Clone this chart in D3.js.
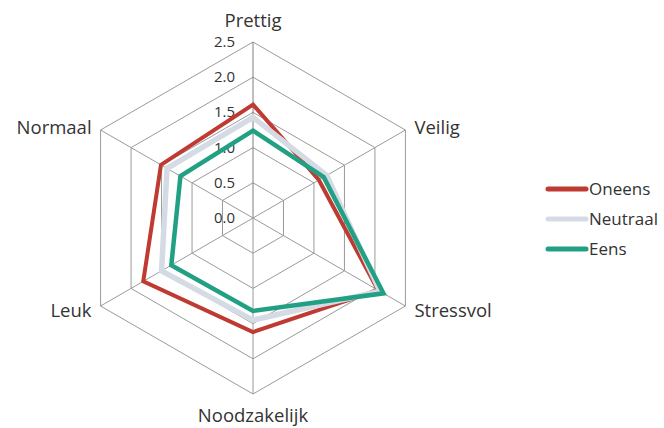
<!DOCTYPE html>
<html>
<head>
<meta charset="utf-8">
<script src="https://cdn.jsdelivr.net/npm/d3@7"></script>
<style>
  body { margin: 0; background: #fff; }
  text { font-family: "Open Sans", "Liberation Sans", sans-serif; fill: #333; }
</style>
</head>
<body>
<div id="chart"></div>
<script>
const axesNames = ["Prettig", "Veilig", "Stressvol", "Noodzakelijk", "Leuk", "Normaal"];
const ticks = [0, 0.5, 1.0, 1.5, 2.0, 2.5];
const seriesNames = ["Oneens", "Neutraal", "Eens"];
const oneens = [1.61, 1.08, 2.05, 1.62, 1.80, 1.51];
const neutraal = [1.43, 1.21, 2.08, 1.45, 1.50, 1.41];
const eens = [1.24, 1.16, 2.14, 1.32, 1.34, 1.19];
const colors = ["#BF3A30", "#D5DBE4", "#22A084"];
const widths = [4, 5.5, 4.5];

const width = 664, height = 428;
const cx = 253, cy = 218, R = 176;

const svg = d3.select("#chart").append("svg")
  .attr("width", width).attr("height", height);

const r = d3.scaleLinear().domain([0, 2.5]).range([0, R]);
const angle = i => -Math.PI / 2 + i * Math.PI / 3;
const pt = (v, i) => [cx + r(v) * Math.cos(angle(i)), cy + r(v) * Math.sin(angle(i))];

const g = svg.append("g");

// grid hexagons
ticks.slice(1).forEach(t => {
  g.append("polygon")
    .attr("points", axesNames.map((d, i) => pt(t, i).join(",")).join(" "))
    .attr("fill", "none")
    .attr("stroke", "#9a9a9a")
    .attr("stroke-width", 1);
});

// spokes
axesNames.forEach((d, i) => {
  const [x, y] = pt(2.5, i);
  g.append("line")
    .attr("x1", cx).attr("y1", cy).attr("x2", x).attr("y2", y)
    .attr("stroke", i === 0 ? "#7f7f7f" : "#9a9a9a")
    .attr("stroke-width", 1);
});

// tick labels
g.selectAll("text.tick").data(ticks).join("text")
  .attr("class", "tick")
  .attr("x", cx - 18)
  .attr("y", d => cy - r(d) + 5)
  .attr("text-anchor", "end")
  .attr("font-size", 15)
  .text(d => d.toFixed(1));

// axis labels
const labelPos = [
  { dx: 0, dy: -15, anchor: "middle" },
  { dx: 9, dy: 4, anchor: "start" },
  { dx: 9, dy: 11, anchor: "start" },
  { dx: 0, dy: 28, anchor: "middle" },
  { dx: -9, dy: 11, anchor: "end" },
  { dx: -9, dy: 4, anchor: "end" }
];
axesNames.forEach((d, i) => {
  const [x, y] = pt(2.5, i);
  g.append("text")
    .attr("x", x + labelPos[i].dx)
    .attr("y", y + labelPos[i].dy)
    .attr("text-anchor", labelPos[i].anchor)
    .attr("font-size", 18.5)
    .text(d);
});

// series
const line = d3.line().curve(d3.curveLinearClosed);
[oneens, neutraal, eens].forEach((vals, s) => {
  g.append("path")
    .datum(vals.map((v, i) => pt(v, i)))
    .attr("d", line)
    .attr("fill", "none")
    .attr("stroke", colors[s])
    .attr("stroke-width", widths[s])
    .attr("stroke-linejoin", "miter");
});

// legend
const leg = svg.append("g").attr("transform", "translate(548,189)");
seriesNames.forEach((name, s) => {
  const row = leg.append("g").attr("transform", `translate(0,${s * 30})`);
  row.append("line")
    .attr("x1", 0).attr("x2", 38).attr("y1", 0).attr("y2", 0)
    .attr("stroke", colors[s]).attr("stroke-width", 5)
    .attr("stroke-linecap", "round");
  row.append("text")
    .attr("x", 41).attr("y", 6)
    .attr("font-size", 17)
    .text(name);
});
</script>
</body>
</html>
